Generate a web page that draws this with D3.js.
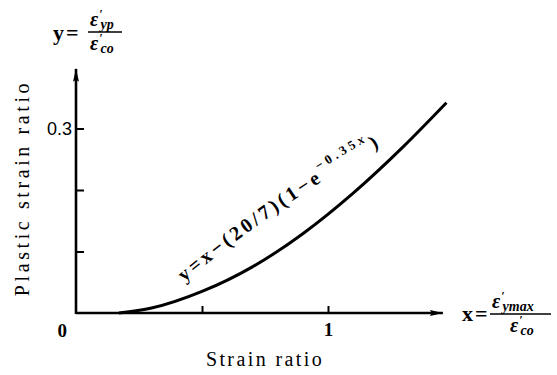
<!DOCTYPE html>
<html>
<head>
<meta charset="utf-8">
<script src="https://cdn.jsdelivr.net/npm/d3@7"></script>
<style>
  body { margin: 0; background: #fff; }
  svg text { fill: #000; }
</style>
</head>
<body>
<div id="chart"></div>
<script>
// curve: y = x - (20/7)(1 - e^(-0.35x))
const strainRatio  = [0.17, 0.30, 0.50, 0.70, 0.90, 1.10, 1.30, 1.47];
const plasticRatio = [0.0, 0.008, 0.035, 0.075, 0.129, 0.195, 0.271, 0.342];
const xTicks = [0.5, 1];
const yTicks = [0.1, 0.2, 0.3];
const xTickLabels = {1: "1"};
const yTickLabels = {0.3: "0.3"};

const W = 557, H = 375;
const serif = "'Liberation Serif', 'DejaVu Serif', serif";
const sans = "'Liberation Sans', Arial, sans-serif";

const svg = d3.select("#chart").append("svg")
    .attr("width", W).attr("height", H)
    .attr("viewBox", `0 0 ${W} ${H}`);

const x = d3.scaleLinear().domain([0, 1]).range([76, 328]);
const y = d3.scaleLinear().domain([0, 0.3]).range([313, 128.5]);
const xEnd = 1.456, yEnd = 0.397;

// arrow heads
const defs = svg.append("defs");
defs.append("marker")
    .attr("id", "arrow")
    .attr("viewBox", "0 0 13 8")
    .attr("refX", 13).attr("refY", 4)
    .attr("markerWidth", 13).attr("markerHeight", 8)
    .attr("markerUnits", "userSpaceOnUse")
    .attr("orient", "auto")
  .append("path")
    .attr("d", "M0,1 L13,4 L0,7 L2,4 Z")
    .attr("fill", "#000");

const line = d3.line();

// x axis line
svg.append("path")
    .attr("d", line([[x(0), y(0)], [x(xEnd), y(0)]]))
    .attr("stroke", "#000").attr("stroke-width", 2.6)
    .attr("marker-end", "url(#arrow)");
// y axis line
svg.append("path")
    .attr("d", line([[x(0), y(0) + 1], [x(0), y(yEnd)]]))
    .attr("stroke", "#000").attr("stroke-width", 2.6)
    .attr("marker-end", "url(#arrow)");

// ticks
const xAxis = svg.append("g")
    .attr("transform", `translate(0, ${y(0)})`)
    .call(d3.axisBottom(x).tickValues(xTicks).tickSizeInner(-7).tickSizeOuter(0).tickPadding(9)
        .tickFormat(d => xTickLabels[d] || ""));
const yAxis = svg.append("g")
    .attr("transform", `translate(${x(0)}, 0)`)
    .call(d3.axisLeft(y).tickValues(yTicks).tickSizeInner(-8).tickSizeOuter(0).tickPadding(4)
        .tickFormat(d => yTickLabels[d] || ""));
svg.selectAll(".domain").remove();
svg.selectAll(".tick line").attr("stroke", "#000").attr("stroke-width", 2);
xAxis.selectAll("text").style("font-family", serif).style("font-size", "19px").style("font-weight", "bold").attr("dy", "0.75em");
yAxis.selectAll("text").style("font-family", sans).style("font-size", "18px");

// origin label
svg.append("text")
    .attr("x", x(0) - 9).attr("y", y(0) + 24)
    .attr("text-anchor", "end")
    .style("font-family", serif).style("font-size", "19px").style("font-weight", "bold")
    .text("0");

// the curve
const curve = d3.line()
    .x(d => x(d[0])).y(d => y(d[1]))
    .curve(d3.curveMonotoneX);
svg.append("path")
    .datum(strainRatio.map((v, i) => [v, plasticRatio[i]]))
    .attr("d", curve)
    .attr("fill", "none")
    .attr("stroke", "#000")
    .attr("stroke-width", 3);

// axis titles
svg.append("text")
    .attr("x", 265).attr("y", 366)
    .attr("text-anchor", "middle")
    .style("font-family", serif).style("font-size", "20px").style("letter-spacing", "2.4px")
    .text("Strain ratio");

svg.append("text")
    .attr("transform", `translate(29, 188) rotate(-90)`)
    .attr("text-anchor", "middle")
    .style("font-family", serif).style("font-size", "20px").style("letter-spacing", "3.6px")
    .text("Plastic strain ratio");

// fraction labels at the axis ends
function fraction(g, numSub, denSub, x0, barY, barW) {
  g.append("line")
      .attr("x1", x0).attr("x2", x0 + barW)
      .attr("y1", barY).attr("y2", barY)
      .attr("stroke", "#000").attr("stroke-width", 1.6);
  const num = g.append("text").attr("x", x0 + 2).attr("y", barY - 6)
      .style("font-family", serif).style("font-style", "italic").style("font-weight", "bold").style("font-size", "20px");
  num.append("tspan").text("ε");
  num.append("tspan").attr("dy", -8).attr("dx", 1).style("font-size", "12px").text("′");
  num.append("tspan").attr("dy", 11).attr("dx", -2).style("font-size", "14px").text(numSub);
  const den = g.append("text").attr("x", x0 + 2).attr("y", barY + 18)
      .style("font-family", serif).style("font-style", "italic").style("font-weight", "bold").style("font-size", "20px");
  den.append("tspan").text("ε");
  den.append("tspan").attr("dy", -8).attr("dx", 1).style("font-size", "12px").text("′");
  den.append("tspan").attr("dy", 11).attr("dx", -2).style("font-size", "14px").text(denSub);
}

const yLab = svg.append("g");
yLab.append("text").attr("x", 53).attr("y", 40)
    .style("font-family", serif).style("font-weight", "bold").style("font-size", "22px")
    .style("letter-spacing", "2px")
    .text("y=");
fraction(yLab, "yp", "co", 88, 32, 34);

const xLab = svg.append("g");
xLab.append("text").attr("x", 462).attr("y", 321)
    .style("font-family", serif).style("font-weight", "bold").style("font-size", "22px")
    .style("letter-spacing", "2px")
    .text("x=");
fraction(xLab, "ymax", "co", 490, 314, 61);
xLab.selectAll("text").filter((d, i) => i === 2).attr("x", 510);

// formula written along the curve
const labelPath = d3.path();
labelPath.moveTo(x(0.43), y(0.05));
labelPath.quadraticCurveTo(x(0.84), y(0.19), x(1.33), y(0.30));
defs.append("path").attr("id", "lblpath").attr("d", labelPath.toString());
const ft = svg.append("text")
    .style("font-family", serif).style("font-weight", "bold").style("font-size", "20px")
    .style("letter-spacing", "3.2px");
const tp = ft.append("textPath").attr("href", "#lblpath");
tp.append("tspan").text("y=x−(20/7)(1−e");
tp.append("tspan").attr("dy", -11).style("font-size", "13px").style("letter-spacing", "3.6px").text("−0.35");
tp.append("tspan").style("font-size", "13px").style("font-style", "italic").text("x");
tp.append("tspan").attr("dy", 11).text(")");
</script>
</body>
</html>
